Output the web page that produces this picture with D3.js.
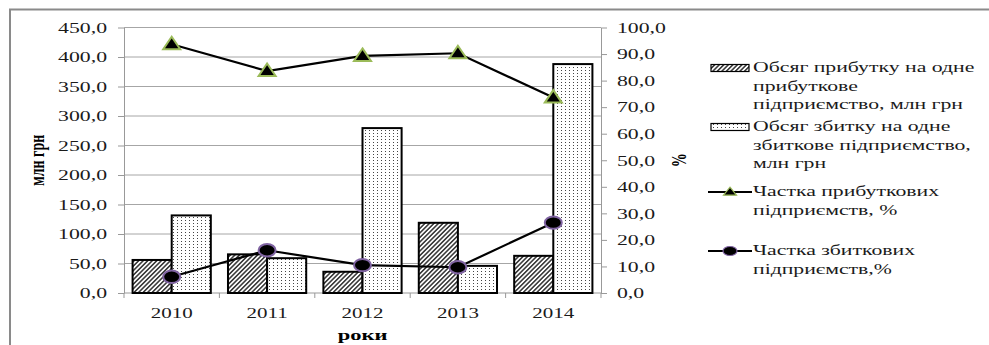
<!DOCTYPE html>
<html>
<head>
<meta charset="utf-8">
<script src="https://cdn.jsdelivr.net/npm/d3@7"></script>
<style>
  body { margin: 0; background: #fff; }
  svg { display: block; }
</style>
</head>
<body>
<svg id="chart"></svg>
<script>
const years = ["2010", "2011", "2012", "2013", "2014"];
const profitPerEnterprise = [56, 65.5, 36, 119, 63];
const lossPerEnterprise = [131.5, 59, 279.5, 46, 388];
const profitableShare = [93.7, 83.6, 89.3, 90.3, 73.6];
const lossShare = [6.1, 16.1, 10.5, 9.7, 26.5];
const leftTicks = [0, 50, 100, 150, 200, 250, 300, 350, 400, 450];
const rightTicks = [0, 10, 20, 30, 40, 50, 60, 70, 80, 90, 100];

const width = 989;
const height = 345;
const plot = { left: 124, right: 601, top: 27.5, bottom: 293 };
const sx = 1.45; // text in the picture is stretched sideways
const serif = "'Liberation Serif', 'Times New Roman', 'DejaVu Serif', serif";
const fmt = v => d3.format(".1f")(v).replace(".", ",");

const svg = d3.select("#chart")
  .attr("width", width)
  .attr("height", height);

const defs = svg.append("defs");

const hatch = defs.append("pattern")
  .attr("id", "hatch")
  .attr("patternUnits", "userSpaceOnUse")
  .attr("width", 3.2)
  .attr("height", 3.2)
  .attr("patternTransform", "rotate(45)");
hatch.append("rect").attr("width", 3.2).attr("height", 3.2).attr("fill", "#fff");
hatch.append("line")
  .attr("x1", 0.8).attr("y1", 0).attr("x2", 0.8).attr("y2", 3.2)
  .attr("stroke", "#111").attr("stroke-width", 1.3);

const dots = defs.append("pattern")
  .attr("id", "dots")
  .attr("patternUnits", "userSpaceOnUse")
  .attr("width", 4)
  .attr("height", 3);
dots.append("rect").attr("width", 4).attr("height", 3).attr("fill", "#fff");
dots.append("rect").attr("x", 1).attr("y", 1).attr("width", 1).attr("height", 1).attr("fill", "#444");

// outer frame
svg.append("path")
  .attr("d", `M10,${height} L10,9.5 L${width},9.5`)
  .attr("fill", "none")
  .attr("stroke", "#8a8a8a")
  .attr("stroke-width", 2);

const x = d3.scaleBand()
  .domain(years)
  .range([plot.left, plot.right])
  .paddingInner(0.18)
  .paddingOuter(0.09);

const xSub = d3.scaleBand()
  .domain(["profit", "loss"])
  .range([0, x.bandwidth()]);

const yLeft = d3.scaleLinear()
  .domain([0, 450])
  .range([plot.bottom, plot.top]);

const yRight = d3.scaleLinear()
  .domain([0, 100])
  .range([plot.bottom, plot.top]);

// gridlines
svg.append("g")
  .selectAll("line")
  .data(leftTicks.slice(1))
  .enter()
  .append("line")
  .attr("x1", plot.left)
  .attr("x2", plot.right)
  .attr("y1", d => yLeft(d))
  .attr("y2", d => yLeft(d))
  .attr("stroke", "#a6a6a6")
  .attr("stroke-width", 1);

// left axis
const leftAxis = svg.append("g")
  .attr("transform", `translate(${plot.left},0)`)
  .call(d3.axisLeft(yLeft).tickValues(leftTicks).tickFormat(fmt).tickSize(6).tickSizeOuter(0));
leftAxis.selectAll("text")
  .attr("x", 0)
  .attr("transform", `translate(-17,0) scale(${sx},1)`);

// right axis
const rightAxis = svg.append("g")
  .attr("transform", `translate(${plot.right},0)`)
  .call(d3.axisRight(yRight).tickValues(rightTicks).tickFormat(fmt).tickSize(6).tickSizeOuter(0));
rightAxis.selectAll("text")
  .attr("x", 0)
  .attr("transform", `translate(16,0) scale(${sx},1)`);

// bottom axis: ticks at band boundaries, labels at band centres
const bottomAxis = svg.append("g");
bottomAxis.append("line")
  .attr("x1", plot.left).attr("x2", plot.right)
  .attr("y1", plot.bottom).attr("y2", plot.bottom);
bottomAxis.selectAll(".tk")
  .data(d3.range(years.length + 1))
  .enter()
  .append("line")
  .attr("class", "tk")
  .attr("x1", i => plot.left + i * x.step())
  .attr("x2", i => plot.left + i * x.step())
  .attr("y1", plot.bottom)
  .attr("y2", plot.bottom + 5);
bottomAxis.selectAll("text")
  .data(years)
  .enter()
  .append("text")
  .attr("transform", d => `translate(${x(d) + x.bandwidth() / 2},318) scale(1.4,1)`)
  .attr("text-anchor", "middle")
  .text(d => d);

svg.selectAll(".domain, .tick line").attr("stroke", "#999");
bottomAxis.selectAll("line").attr("stroke", "#999");
svg.selectAll(".tick text, g text")
  .attr("font-size", 15)
  .attr("fill", "#1a1a1a");

// bars
svg.append("g")
  .selectAll("rect")
  .data(years)
  .enter()
  .append("rect")
  .attr("x", d => x(d) + xSub("profit"))
  .attr("y", (d, i) => yLeft(profitPerEnterprise[i]))
  .attr("width", xSub.bandwidth())
  .attr("height", (d, i) => yLeft(0) - yLeft(profitPerEnterprise[i]))
  .attr("fill", "url(#hatch)")
  .attr("stroke", "#000")
  .attr("stroke-width", 2);

svg.append("g")
  .selectAll("rect")
  .data(years)
  .enter()
  .append("rect")
  .attr("x", d => x(d) + xSub("loss"))
  .attr("y", (d, i) => yLeft(lossPerEnterprise[i]))
  .attr("width", xSub.bandwidth())
  .attr("height", (d, i) => yLeft(0) - yLeft(lossPerEnterprise[i]))
  .attr("fill", "url(#dots)")
  .attr("stroke", "#000")
  .attr("stroke-width", 2);

// lines
const cx = d => x(d) + x.bandwidth() / 2;

const triangle = (w, h) => `M0,${-h * 0.6} L${w / 2},${h * 0.4} L${-w / 2},${h * 0.4} Z`;

function drawSeries(values, marker) {
  const pts = years.map((d, i) => [cx(d), yRight(values[i])]);
  svg.append("path")
    .attr("d", d3.line()(pts))
    .attr("fill", "none")
    .attr("stroke", "#000")
    .attr("stroke-width", 2.2);
  const g = svg.append("g");
  pts.forEach(p => marker(g.append("g").attr("transform", `translate(${p[0]},${p[1]})`), false));
}

const triMarker = (g, small) => g.append("path")
  .attr("d", small ? triangle(13, 8) : triangle(17, 12.5))
  .attr("fill", "#000")
  .attr("stroke", "#9bbb59")
  .attr("stroke-width", small ? 1.2 : 2);

const dotMarker = (g, small) => g.append("ellipse")
  .attr("rx", small ? 7 : 8.5)
  .attr("ry", small ? 4.5 : 6.2)
  .attr("fill", "#000")
  .attr("stroke", "#8064a2")
  .attr("stroke-width", small ? 1.2 : 2);

drawSeries(lossShare, dotMarker);
drawSeries(profitableShare, triMarker);

// axis titles
svg.append("text")
  .attr("transform", `translate(44,${(plot.top + plot.bottom) / 2}) scale(1.45,1) rotate(-90)`)
  .attr("text-anchor", "middle")
  .attr("font-size", 14)
  .attr("font-weight", "bold")
  .text("млн грн");

svg.append("text")
  .attr("transform", `translate(686,${(plot.top + plot.bottom) / 2}) scale(1.45,1) rotate(-90)`)
  .attr("text-anchor", "middle")
  .attr("font-size", 14)
  .attr("font-weight", "bold")
  .text("%");

svg.append("text")
  .attr("transform", `translate(${(plot.left + plot.right) / 2},340) scale(1.5,1)`)
  .attr("text-anchor", "middle")
  .attr("font-size", 15)
  .attr("font-weight", "bold")
  .text("роки");

// legend
const legendItems = [
  { type: "hatch", y: 68, lines: ["Обсяг прибутку на одне", "прибуткове", "підприємство, млн грн"] },
  { type: "dots", y: 127, lines: ["Обсяг збитку на одне", "збиткове підприємство,", "млн грн"] },
  { type: "tri", y: 192, lines: ["Частка прибуткових", "підприємств, %"] },
  { type: "dot", y: 251, lines: ["Частка збиткових", "підприємств,%"] }
];

const legend = svg.append("g");
legendItems.forEach(item => {
  const g = legend.append("g");
  if (item.type === "hatch" || item.type === "dots") {
    g.append("rect")
      .attr("x", 711).attr("y", item.y - 3.5)
      .attr("width", 38).attr("height", 7)
      .attr("fill", `url(#${item.type})`)
      .attr("stroke", "#000")
      .attr("stroke-width", 1.2);
  } else {
    g.append("line")
      .attr("x1", 708).attr("x2", 752)
      .attr("y1", item.y).attr("y2", item.y)
      .attr("stroke", "#000").attr("stroke-width", 2.2);
    const m = g.append("g").attr("transform", `translate(730,${item.y})`);
    if (item.type === "tri") triMarker(m, true);
    else dotMarker(m, true);
  }
  item.lines.forEach((t, j) => {
    g.append("text")
      .attr("transform", `translate(753,${item.y + 4 + j * 18.5}) scale(1.5,1)`)
      .attr("font-size", 14.5)
      .attr("fill", "#1a1a1a")
      .text(t);
  });
});

// every label in the reference is set in a Times-like serif
svg.selectAll("g").attr("font-family", null);
svg.selectAll("text").attr("font-family", serif);
</script>
</body>
</html>
